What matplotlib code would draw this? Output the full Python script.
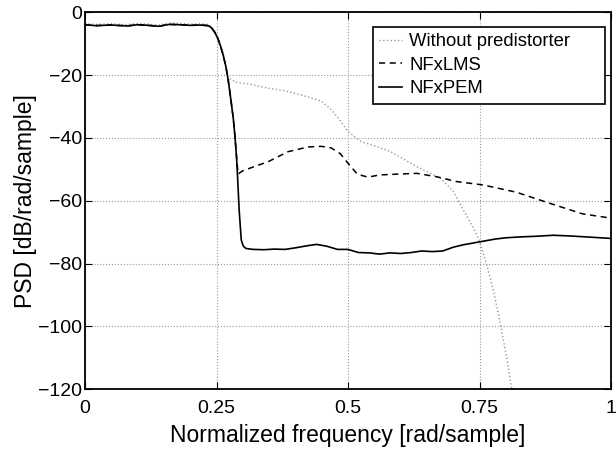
import numpy as np
import matplotlib.pyplot as plt

plt.rcParams['font.family'] = ['Liberation Sans', 'DejaVu Sans']

# shared passband (all three curves overlap here)
f_pass = [0, 0.02, 0.05, 0.08, 0.10, 0.12, 0.14, 0.16, 0.18, 0.20, 0.22, 0.234,
          0.24, 0.247, 0.253, 0.258, 0.263, 0.268, 0.272]
psd_pass = [-4.0, -4.3, -4.1, -4.4, -4.0, -4.2, -4.5, -3.9, -4.0, -4.2, -4.1, -4.3,
            -4.9, -6.5, -8.6, -11.0, -13.9, -17.5, -21.4]

# NFxPEM after the passband
f_pem = [0.275, 0.278, 0.282, 0.285, 0.288, 0.29, 0.293, 0.297, 0.301, 0.306,
         0.32, 0.34, 0.36, 0.38, 0.40, 0.42, 0.44, 0.46, 0.48, 0.50, 0.52, 0.54,
         0.56, 0.58, 0.60, 0.62, 0.64, 0.66, 0.68, 0.70, 0.72, 0.74, 0.76, 0.78,
         0.80, 0.83, 0.86, 0.89, 0.92, 0.95, 0.98, 1.0]
psd_pem = [-25.0, -28.8, -34.0, -39.5, -46.0, -52.3, -62.9, -72.5, -74.5, -75.2,
           -75.5, -75.6, -75.4, -75.5, -75.0, -74.4, -73.9, -74.5, -75.5, -75.5,
           -76.5, -76.6, -77.0, -76.6, -76.8, -76.5, -76.0, -76.2, -76.0, -74.8,
           -74.0, -73.4, -72.8, -72.2, -71.8, -71.5, -71.3, -71.0, -71.2, -71.5,
           -71.8, -72.0]

# NFxLMS after the passband
f_lms = [0.275, 0.278, 0.282, 0.285, 0.288, 0.291, 0.30, 0.316, 0.348, 0.386,
         0.424, 0.449, 0.468, 0.485, 0.50, 0.518, 0.538, 0.56, 0.60, 0.631,
         0.669, 0.706, 0.757, 0.82, 0.883, 0.946, 0.99, 1.0]
psd_lms = [-25.0, -28.8, -34.0, -39.5, -46.0, -51.5, -50.5, -49.5, -47.6, -44.4,
           -42.9, -42.7, -43.2, -45.0, -48.1, -51.6, -52.5, -51.8, -51.5, -51.3,
           -52.4, -53.9, -55.0, -57.3, -60.8, -64.2, -65.3, -65.8]

# without predistorter after the passband
f_raw = [0.28, 0.285, 0.316, 0.348, 0.379, 0.41, 0.449, 0.468, 0.485, 0.50,
         0.525, 0.55, 0.581, 0.631, 0.676, 0.70, 0.714, 0.739, 0.75, 0.764,
         0.777, 0.79, 0.802, 0.81, 0.813]
psd_raw = [-21.5, -22.3, -23.0, -24.2, -25.0, -26.3, -28.3, -31.0, -34.5, -38.0,
           -41.2, -42.5, -44.4, -49.2, -52.9, -57.0, -61.4, -68.8, -73.0, -80.6,
           -89.0, -99.6, -110.3, -118.8, -121.0]

x_ticks = [0, 0.25, 0.5, 0.75, 1]
x_labels = ['0', '0.25', '0.5', '0.75', '1']

fig = plt.figure(figsize=(6.16, 4.5), dpi=100)
ax = fig.add_axes([0.138, 0.135, 0.854, 0.838])

ax.plot(f_pass + f_raw, [p + 0.4 for p in psd_pass] + psd_raw, color='0.6',
        linestyle=':', lw=1.0, label='Without predistorter')
ax.plot(f_pass + f_lms, psd_pass + psd_lms, color='black', linestyle=(0, (4, 3)),
        lw=1.1, label='NFxLMS')
ax.plot(f_pass + f_pem, psd_pass + psd_pem, color='black', lw=1.2, label='NFxPEM')

ax.set_xlim(0, 1)
ax.set_ylim(-120, 0)
ax.set_xticks(x_ticks)
ax.set_xticklabels(x_labels)
ax.set_yticks(np.arange(-120, 1, 20))
ax.tick_params(direction='in', top=True, right=True, labelsize=14, length=5)
ax.tick_params(axis='x', pad=8)
ax.tick_params(axis='y', pad=2)
ax.grid(True, linestyle=':', color='0.6', lw=0.8)
for s in ax.spines.values():
    s.set_linewidth(1.3)

ax.set_xlabel('Normalized frequency [rad/sample]', fontsize=16.5, labelpad=5)
ax.set_ylabel('PSD [dB/rad/sample]', fontsize=16.5, labelpad=1)

leg = ax.legend(loc='upper left', bbox_to_anchor=(0.5475, 0.961, 0.441, 0),
                mode='expand', fontsize=13.3, handlelength=1.2,
                fancybox=False, framealpha=1, edgecolor='black',
                borderaxespad=0, handletextpad=0.4, labelspacing=0.35,
                borderpad=0.35)
leg.get_frame().set_linewidth(1.2)

fig.savefig('out.png', dpi=100)
